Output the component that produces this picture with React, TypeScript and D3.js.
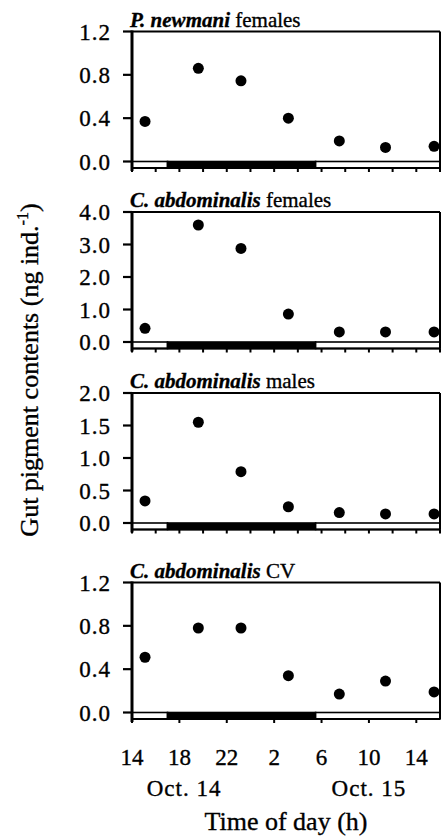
import React from "react";
import * as d3 from "d3";

// ---- data ----
const sampleHours = [15.1, 19.6, 23.2, 27.2, 31.5, 35.4, 39.5];
const pNewmaniFemales = [0.37, 0.86, 0.745, 0.4, 0.19, 0.13, 0.14];
const cAbdFemales = [0.42, 3.6, 2.88, 0.86, 0.31, 0.31, 0.31];
const cAbdMales = [0.34, 1.55, 0.79, 0.25, 0.16, 0.14, 0.14];
const cAbdCV = [0.51, 0.78, 0.78, 0.34, 0.17, 0.29, 0.19];

const panelSpecies = ["P. newmani", "C. abdominalis", "C. abdominalis", "C. abdominalis"];
const panelGroups = ["females", "females", "males", "CV"];
const panelSeries = [pNewmaniFemales, cAbdFemales, cAbdMales, cAbdCV];
const panelYMax = [1.2, 4.0, 2.0, 1.2];
const panelYTicks = [
  [0, 0.4, 0.8, 1.2],
  [0, 1, 2, 3, 4],
  [0, 0.5, 1, 1.5, 2],
  [0, 0.4, 0.8, 1.2],
];

const periodStart = [14, 17, 29.5];
const periodEnd = [17, 29.5, 40];
const periodDark = [false, true, false];

const xTickHours = [14, 18, 22, 26, 30, 34, 38];
const xTickLabels = ["14", "18", "22", "2", "6", "10", "14"];
const dayLabels = ["Oct. 14", "Oct. 15"];
const dayLabelHours = [18.4, 34];

// ---- layout ----
const W = 443;
const H = 837;
const x0 = 132;
const x1 = 440;
const panelTop = [31.5, 212, 393, 582.5];
const plotH = 130;
const barH = 6.5;
const serif = "'Liberation Serif', 'Times New Roman', serif";
const textStroke = { stroke: "#000", strokeWidth: 0.35 };

export default function App() {
  const x = d3.scaleLinear().domain([14, 40]).range([x0, x1]);
  const minorTicks = d3.range(14, 40.01, 2);

  return (
    <svg
      width={W}
      height={H}
      style={{ position: "absolute", left: 0, top: 0, background: "#fff" }}
      fontFamily={serif}
    >
      {panelSeries.map((series, pi) => {
        const top = panelTop[pi];
        const zero = top + plotH;
        const bottom = zero + barH;
        const y = d3.scaleLinear().domain([0, panelYMax[pi]]).range([zero, top]);
        const ticksX = pi === 3 ? xTickHours : minorTicks;
        return (
          <g key={pi}>
            {/* title */}
            <text x={130} y={top - 5} fontSize={21} fill="#000" {...textStroke}>
              <tspan fontStyle="italic" fontWeight="bold">{panelSpecies[pi]}</tspan>
              <tspan> {panelGroups[pi]}</tspan>
            </text>
            {/* light/dark bar */}
            {periodStart.map((s, i) => (
              <rect
                key={i}
                x={x(s)}
                y={zero}
                width={x(periodEnd[i]) - x(s)}
                height={barH}
                fill={periodDark[i] ? "#000" : "#fff"}
                stroke="#000"
                strokeWidth={1.6}
              />
            ))}
            {/* frame */}
            <line x1={x0} x2={x1} y1={top} y2={top} stroke="#000" strokeWidth={2} />
            <line x1={x1} x2={x1} y1={top} y2={bottom} stroke="#000" strokeWidth={2} />
            <line x1={x0} x2={x1} y1={bottom} y2={bottom} stroke="#000" strokeWidth={2} />
            <line x1={x0} x2={x0} y1={top - 1} y2={bottom + 3} stroke="#000" strokeWidth={3} />
            {/* x ticks */}
            {ticksX.map((h) => (
              <line key={h} x1={x(h)} x2={x(h)} y1={bottom} y2={bottom + 4} stroke="#000" strokeWidth={2} />
            ))}
            {/* y ticks */}
            {panelYTicks[pi].map((v) => (
              <g key={v}>
                <line x1={x0 - 9} x2={x0} y1={y(v)} y2={y(v)} stroke="#000" strokeWidth={2.2} />
                <text
                  x={111}
                  y={y(v)}
                  dy="0.35em"
                  textAnchor="end"
                  fontSize={23}
                  letterSpacing={1}
                  fill="#000"
                  {...textStroke}
                >
                  {d3.format(".1f")(v)}
                </text>
              </g>
            ))}
            {/* points */}
            {series.map((v, i) => (
              <circle key={i} cx={x(sampleHours[i])} cy={y(v)} r={5.5} fill="#000" />
            ))}
          </g>
        );
      })}

      {/* x tick labels */}
      {xTickHours.map((h, i) => (
        <text key={h} x={x(h)} y={765} textAnchor="middle" fontSize={23} fill="#000" {...textStroke}>
          {xTickLabels[i]}
        </text>
      ))}
      {dayLabels.map((d, i) => (
        <text key={d} x={x(dayLabelHours[i])} y={796} textAnchor="middle" fontSize={23} letterSpacing={1} fill="#000" {...textStroke}>
          {d}
        </text>
      ))}
      <text x={(x0 + x1) / 2} y={830} textAnchor="middle" fontSize={26} fill="#000" {...textStroke}>
        Time of day (h)
      </text>

      {/* y title */}
      <text
        transform={`translate(38, 370) rotate(-90)`}
        textAnchor="middle"
        fontSize={26}
        fill="#000"
        {...textStroke}
      >
        Gut pigment contents  (ng ind.
        <tspan fontSize={16} dy={-10}>-1</tspan>
        <tspan dy={10}>)</tspan>
      </text>
    </svg>
  );
}
